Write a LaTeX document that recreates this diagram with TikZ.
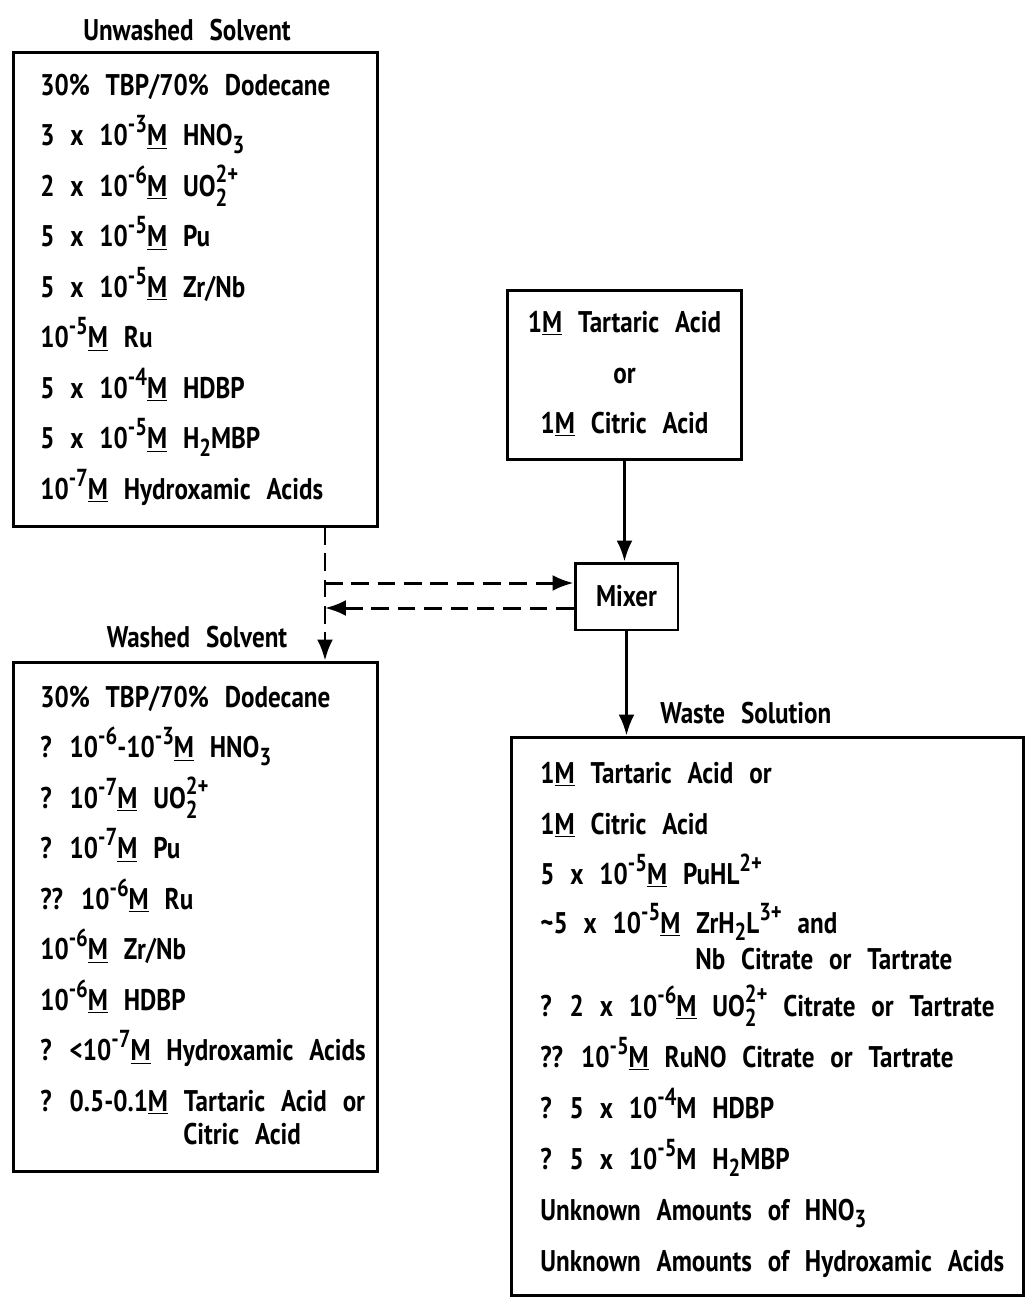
\documentclass[tikz,border=0pt]{standalone}
\usepackage{fontspec}
\setmainfont{PT Sans}[FakeStretch=0.84, WordSpace=2.5]
\usetikzlibrary{arrows.meta}
\newcommand{\um}{\underline{M}}
\newcommand{\smallfig}{\fontsize{14}{14}\selectfont}
\newcommand{\ex}[1]{\raisebox{0.42em}{\smallfig #1}}
\newcommand{\sbs}[1]{\raisebox{-0.26em}{\smallfig #1}}
\newcommand{\ionst}[2]{\rlap{\raisebox{-0.36em}{\smallfig #2}}\raisebox{0.45em}{\smallfig #1}}

\begin{document}
\begin{tikzpicture}[x=0.02cm, y=-0.02cm,
    font=\fontsize{17}{20}\selectfont\bfseries,
    box/.style={draw, line width=1.7pt, inner sep=0pt},
    item/.style={anchor=base west, inner sep=0pt},
    head/.style={anchor=base, inner sep=0pt},
    flow/.style={line width=1.7pt, -{Latex[length=0.42cm, width=0.32cm]}},
    flowd/.style={flow, dash pattern=on 10pt off 5pt}]
  \useasboundingbox (0,0) rectangle (1026,1299);

  % boxes
  \node[box, minimum width=7.3cm, minimum height=9.5cm] (unw) at (195.5,289.5) {};
  \node[box, minimum width=4.7cm, minimum height=3.4cm] (acid) at (624.5,375) {};
  \node[box, minimum width=2.06cm, minimum height=1.34cm] (mix) at (626.5,596.5) {Mixer};
  \node[box, minimum width=7.3cm, minimum height=10.2cm] (wash) at (195.5,917) {};
  \node[box, minimum width=10.26cm, minimum height=11.18cm] (waste) at (767.5,1016.5) {};

  % headings
  \node[head] (unwt) at (187,40) {Unwashed Solvent};
  \node[head] (washt) at (197,647) {Washed Solvent};
  \node[item] (wastet) at (660,723) {Waste Solution};

  % unwashed solvent
  \foreach \txt [count=\i] in {
      {30\% TBP/70\% Dodecane},
      {3 x 10\ex{-3}\um{} HNO\sbs{3}},
      {2 x 10\ex{-6}\um{} UO\ionst{2+}{2}},
      {5 x 10\ex{-5}\um{} Pu},
      {5 x 10\ex{-5}\um{} Zr/Nb},
      {10\ex{-5}\um{} Ru},
      {5 x 10\ex{-4}\um{} HDBP},
      {5 x 10\ex{-5}\um{} H\sbs{2}MBP},
      {10\ex{-7}\um{} Hydroxamic Acids}}
    \node[item] (u\i) at (40,{95+50.5*(\i-1)}) {\txt};

  % acid feed
  \node[head] (a1) at (624.5,332) {1\um{} Tartaric Acid};
  \node[head] (a2) at (624.5,383) {or};
  \node[head] (a3) at (624.5,433) {1\um{} Citric Acid};

  % washed solvent
  \foreach \txt [count=\i] in {
      {30\% TBP/70\% Dodecane},
      {? 10\ex{-6}-10\ex{-3}\um{} HNO\sbs{3}},
      {? 10\ex{-7}\um{} UO\ionst{2+}{2}},
      {? 10\ex{-7}\um{} Pu},
      {?? 10\ex{-6}\um{} Ru},
      {10\ex{-6}\um{} Zr/Nb},
      {10\ex{-6}\um{} HDBP},
      {? <10\ex{-7}\um{} Hydroxamic Acids},
      {? 0.5-0.1\um{} Tartaric Acid or}}
    \node[item] (w\i) at (40,{707+50.5*(\i-1)}) {\txt};
  \node[item] (w10) at (183,1144) {Citric Acid};

  % waste solution
  \node[item] (s1) at (540,783) {1\um{} Tartaric Acid or};
  \node[item] (s2) at (540,834) {1\um{} Citric Acid};
  \node[item] (s3) at (540,884) {5 x 10\ex{-5}\um{} PuHL\ex{2+}};
  \node[item] (s4) at (540,933) {\char`\~5 x 10\ex{-5}\um{} ZrH\sbs{2}L\ex{3+} and};
  \node[item] (s5) at (695,969) {Nb Citrate or Tartrate};
  \foreach \txt [count=\i from 6] in {
      {? 2 x 10\ex{-6}\um{} UO\ionst{2+}{2} Citrate or Tartrate},
      {?? 10\ex{-5}\um{} RuNO Citrate or Tartrate},
      {? 5 x 10\ex{-4}M HDBP},
      {? 5 x 10\ex{-5}M H\sbs{2}MBP},
      {Unknown Amounts of HNO\sbs{3}},
      {Unknown Amounts of Hydroxamic Acids}}
    \node[item] (s\i) at (540,{1016+51*(\i-6)}) {\txt};

  % connectors
  \coordinate (uout) at (325,527);
  \coordinate (jin) at (325,583);
  \coordinate (jout) at (325,608);
  \draw[flow] (acid.south) -- (acid.south |- mix.north);
  \draw[flow] (mix.south) -- (mix.south |- waste.north);
  \draw[flowd] (uout) -- (uout |- wash.north);
  \draw[flowd] (jin) -- (jin -| mix.west);
  \draw[flowd] (jout -| mix.west) -- (jout);
\end{tikzpicture}
\end{document}
